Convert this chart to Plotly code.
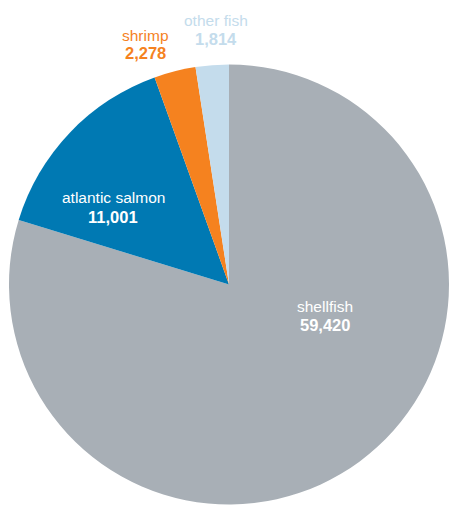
import plotly.graph_objects as go

categories = ["shellfish", "atlantic salmon", "shrimp", "other fish"]
values = [59420, 11001, 2278, 1814]
slice_colors = ["#A8AFB6", "#0079B3", "#F5821F", "#C4DCEC"]
label_colors = ["#FFFFFF", "#FFFFFF", "#F5821F", "#C4DCEC"]
# label anchor positions in page pixels: (x, label y, value y)
label_pos = [(325, 306, 325), (113, 198, 217), (145, 35, 53), (216, 21, 39)]

W, H = 449, 506

def fx(px):
    return px / W

def fy(py):
    return 1 - py / H

fig = go.Figure(go.Pie(
    labels=categories,
    values=values,
    sort=False,
    direction="clockwise",
    rotation=0,
    textinfo="none",
    hoverinfo="label+value",
    marker=dict(colors=slice_colors, line=dict(color="#FFFFFF", width=0)),
    domain=dict(x=[fx(9), fx(449)], y=[fy(505), fy(64)]),
    showlegend=False,
))

FONT = "Liberation Sans, Arial, sans-serif"
for cat, val, col, (px, ly, vy) in zip(categories, values, label_colors, label_pos):
    fig.add_annotation(
        x=fx(px), y=fy(ly), xref="paper", yref="paper",
        text=cat, showarrow=False, xanchor="center", yanchor="middle",
        font=dict(family=FONT, size=15.5, color=col),
    )
    fig.add_annotation(
        x=fx(px), y=fy(vy), xref="paper", yref="paper",
        text=f"<b>{val:,}</b>", showarrow=False, xanchor="center", yanchor="middle",
        font=dict(family=FONT, size=16.5, color=col),
    )

fig.update_layout(
    width=W, height=H,
    margin=dict(l=0, r=0, t=0, b=0),
    paper_bgcolor="white",
    plot_bgcolor="white",
)

fig.write_html(
    "out.html",
    config={"displayModeBar": False},
    post_script="document.body.style.margin='0';document.body.style.overflow='hidden';",
)
